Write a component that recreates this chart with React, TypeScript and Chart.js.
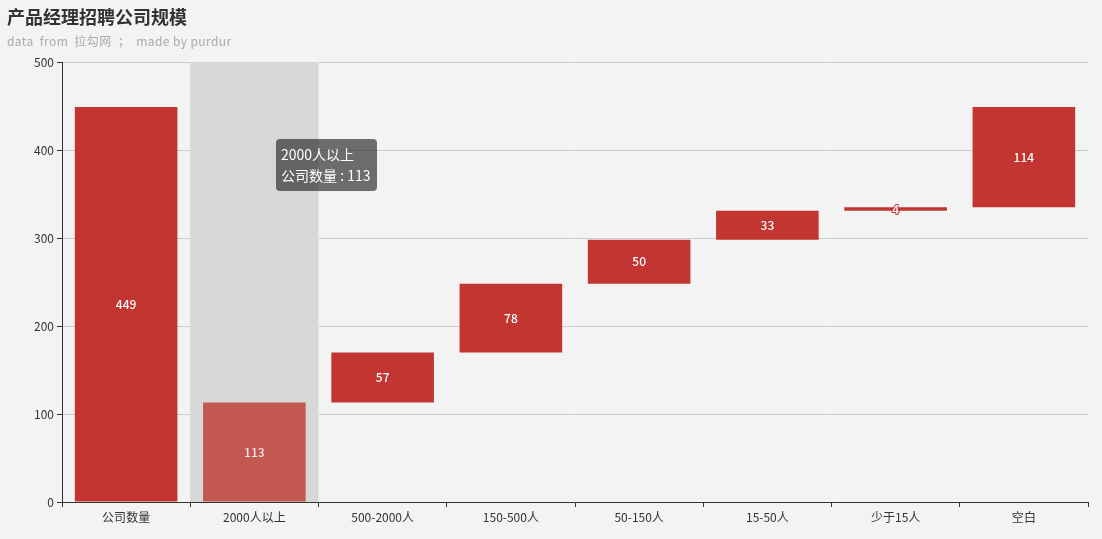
import React, { useEffect, useRef } from "react";
import { Chart, registerables } from "chart.js";

Chart.register(...registerables);

const categories = ["公司数量", "2000人以上", "500-2000人", "150-500人", "50-150人", "15-50人", "少于15人", "空白"];
const values = [449, 113, 57, 78, 50, 33, 4, 114];
const helperBase = [0, 0, 113, 170, 248, 298, 331, 335];
const yTicks = [0, 100, 200, 300, 400, 500];
const seriesName = "公司数量";
const hoverIndex = 1;

const FONT = "'Noto Sans CJK SC', 'Noto Sans', sans-serif";
const BG = "#f3f3f3";
const RED = "#c23531";
const RED_HOVER = "#c35853";

export default function App() {
  const ref = useRef<HTMLCanvasElement | null>(null);

  useEffect(() => {
    document.body.style.margin = "0";
    document.body.style.background = BG;
    const canvas = ref.current!;

    const bgPlugin = {
      id: "bg",
      beforeDraw(chart: any) {
        const { ctx, width, height } = chart;
        ctx.save();
        ctx.fillStyle = BG;
        ctx.fillRect(0, 0, width, height);
        ctx.restore();
      },
    };

    const shadowPlugin = {
      id: "shadow",
      beforeDatasetsDraw(chart: any) {
        const { ctx, chartArea } = chart;
        const xs = chart.scales.x;
        const cw = (chartArea.right - chartArea.left) / categories.length;
        const cx = xs.getPixelForValue(hoverIndex);
        ctx.save();
        ctx.fillStyle = "#d7d7d7";
        ctx.fillRect(cx - cw / 2, chartArea.top, cw, chartArea.bottom - chartArea.top);
        ctx.restore();
      },
    };

    const labelPlugin = {
      id: "labels",
      afterDatasetsDraw(chart: any) {
        const { ctx } = chart;
        const meta = chart.getDatasetMeta(0);
        ctx.save();
        ctx.font = `500 12px ${FONT}`;
        ctx.textAlign = "center";
        ctx.textBaseline = "middle";
        meta.data.forEach((el: any, i: number) => {
          const cy = (el.y + el.base) / 2;
          ctx.lineWidth = 2;
          ctx.strokeStyle = i === hoverIndex ? RED_HOVER : RED;
          ctx.lineJoin = "round";
          ctx.strokeText(String(values[i]), el.x, cy);
          ctx.fillStyle = i === hoverIndex ? "rgba(255,255,255,0.85)" : "#ffffff";
          ctx.fillText(String(values[i]), el.x, cy);
        });
        ctx.restore();
      },
      afterDraw(chart: any) {
        const { ctx } = chart;
        ctx.save();
        ctx.textAlign = "left";
        ctx.textBaseline = "middle";
        ctx.fillStyle = "#333333";
        ctx.font = `bold 18px ${FONT}`;
        ctx.fillText("产品经理招聘公司规模", 7, 17);
        ctx.fillStyle = "#aaaaaa";
        ctx.font = `12px ${FONT}`;
        (ctx as any).letterSpacing = "0.4px";
        ctx.fillText("data  from  拉勾网  ；  made by purdur", 7, 41);
        (ctx as any).letterSpacing = "0px";
        // tooltip
        const x0 = 276, y0 = 139, w = 101, h = 52;
        ctx.fillStyle = "rgba(50,50,50,0.7)";
        ctx.beginPath();
        (ctx as any).roundRect(x0, y0, w, h, 4);
        ctx.fill();
        ctx.fillStyle = "#ffffff";
        ctx.font = `14px ${FONT}`;
        ctx.fillText(categories[hoverIndex], x0 + 5, y0 + 16);
        ctx.fillText(`${seriesName} : ${values[hoverIndex]}`, x0 + 5, y0 + 37);
        ctx.restore();
      },
    };

    const chart = new Chart(canvas, {
      type: "bar",
      data: {
        labels: categories,
        datasets: [
          {
            label: seriesName,
            data: values.map((v, i) => [helperBase[i], helperBase[i] + v]) as any,
            backgroundColor: values.map((_, i) => (i === hoverIndex ? RED_HOVER : RED)),
            borderWidth: 0,
            barPercentage: 0.8,
            categoryPercentage: 1,
          },
        ],
      },
      options: {
        animation: false,
        responsive: false,
        maintainAspectRatio: false,
        events: [],
        layout: { padding: { top: 62, right: 14, left: 0, bottom: 0 } },
        plugins: { legend: { display: false }, tooltip: { enabled: false }, title: { display: false } },
        scales: {
          x: {
            offset: true,
            grid: {
              offset: true,
              drawOnChartArea: false,
              drawTicks: true,
              tickLength: 5,
              tickColor: "#333333",
            },
            border: { color: "#333333", width: 1 },
            ticks: { color: "#333333", font: { family: FONT, size: 12 }, padding: 3, maxRotation: 0, autoSkip: false },
            afterFit(scale: any) {
              scale.height = 37;
            },
          },
          y: {
            min: 0,
            max: 500,
            afterBuildTicks(scale: any) {
              scale.ticks = yTicks.map((v) => ({ value: v }));
            },
            grid: { color: "#cccccc", tickColor: "#333333", tickLength: 5, drawTicks: true },
            border: { color: "#333333", width: 1 },
            ticks: { color: "#333333", font: { family: FONT, size: 12 }, padding: 3 },
            afterFit(scale: any) {
              scale.width = 62;
            },
          },
        },
      },
      plugins: [bgPlugin, shadowPlugin, labelPlugin],
    });
    return () => chart.destroy();
  }, []);

  return (
    <div style={{ width: 1102, height: 539, background: BG }}>
      <canvas ref={ref} width={1102} height={539} style={{ display: "block" }} />
    </div>
  );
}
